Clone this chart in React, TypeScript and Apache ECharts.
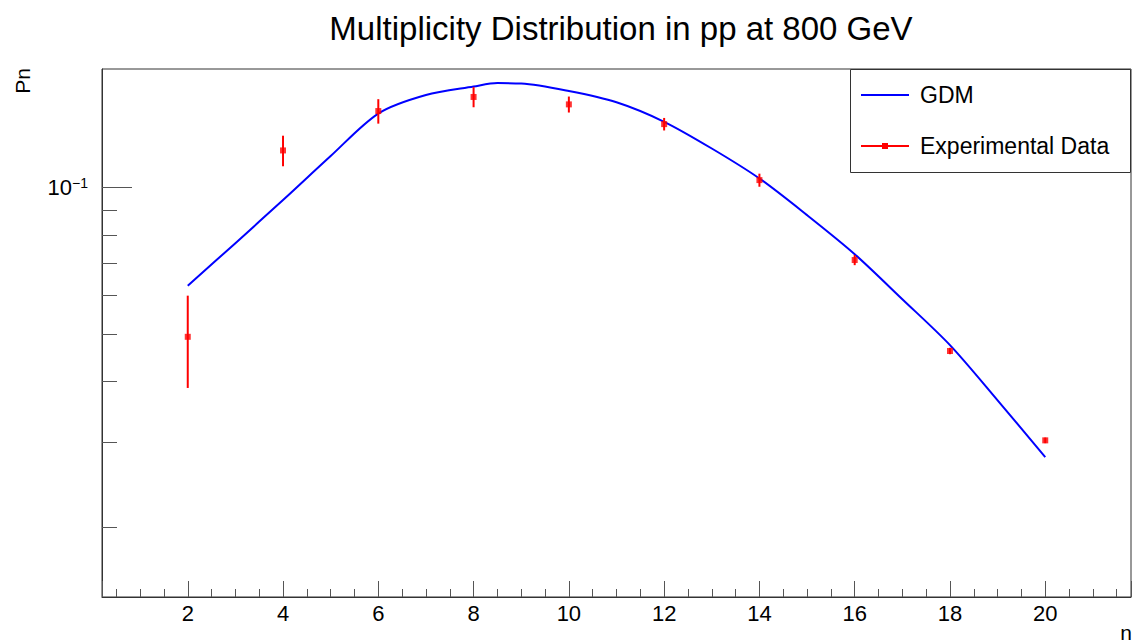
import { useEffect, useRef } from 'react';
import * as echarts from 'echarts';

const TITLE = 'Multiplicity Distribution in pp at 800 GeV';
const X_NAME = 'n';
const Y_NAME = 'Pn';
const GDM_NAME = 'GDM';
const EXP_NAME = 'Experimental Data';

// Experimental data: n, Pn, error
const expN = [2, 4, 6, 8, 10, 12, 14, 16, 18, 20];
const expP = [0.0493, 0.1191, 0.1435, 0.1534, 0.1481, 0.1349, 0.1035, 0.0709, 0.0461, 0.0302];
const expErr = [0.0106, 0.0086, 0.0083, 0.0073, 0.0056, 0.004, 0.0032, 0.0017, 0.0007, 0.0004];

// GDM curve
const gdmN = [2, 3, 4, 5, 6, 7, 8, 8.5, 9, 10, 11, 12, 13, 14, 15, 16, 17, 18, 19, 20];
const gdmP = [0.0628, 0.0768, 0.0942, 0.116, 0.1418, 0.1548, 0.1611, 0.1638, 0.1635, 0.1578, 0.1496, 0.1364, 0.1202, 0.1043, 0.0877, 0.0729, 0.0589, 0.0474, 0.0365, 0.0279];

// Axis ranges and ticks
const X_MIN = 0.2;
const X_MAX = 21.8;
const Y_MIN = 0.01439;
const Y_MAX = 0.1751;
const yMajorTicks = [0.1];
const yMinorTicks = [0.02, 0.03, 0.04, 0.05, 0.06, 0.07, 0.08, 0.09];

const FONT = '"Liberation Sans", Arial, Helvetica, sans-serif';

export default function App() {
  const ref = useRef<HTMLDivElement>(null);

  useEffect(() => {
    if (!ref.current) return;
    const chart = echarts.init(ref.current, undefined, { renderer: 'svg' });

    const tickData = [
      ...yMajorTicks.map((v) => [X_MIN, v, 30]),
      ...yMinorTicks.map((v) => [X_MIN, v, 15]),
    ];

    const option: any = {
      animation: false,
      backgroundColor: '#fff',
      title: {
        text: TITLE,
        left: 616,
        top: 7,
        textAlign: 'center',
        textStyle: { fontSize: 33, fontWeight: 'normal', fontFamily: FONT, color: '#000' },
      },
      grid: {
        left: 102,
        top: 69,
        right: 7,
        bottom: 45,
        show: true,
        borderColor: '#333',
        borderWidth: 1,
        backgroundColor: 'transparent',
      },
      xAxis: {
        type: 'value',
        min: X_MIN,
        max: X_MAX,
        splitNumber: 10,
        minInterval: 2,
        maxInterval: 2,
        axisLine: { show: true, lineStyle: { color: '#333', width: 1 } },
        axisTick: { show: true, inside: true, length: 16, lineStyle: { color: '#555' } },
        minorTick: { show: true, splitNumber: 4, length: 8, lineStyle: { color: '#555' } },
        splitLine: { show: false },
        minorSplitLine: { show: false },
        axisLabel: {
          show: true,
          showMinLabel: false,
          showMaxLabel: false,
          fontSize: 22,
          fontFamily: FONT,
          color: '#000',
          margin: 5,
        },
      },
      yAxis: {
        type: 'log',
        logBase: 10,
        min: Y_MIN,
        max: Y_MAX,
        axisLine: { show: true, lineStyle: { color: '#333', width: 1 } },
        axisTick: { show: false },
        splitLine: { show: false },
        axisLabel: {
          show: true,
          margin: 14,
          formatter: (v: number) => (Math.abs(v - 0.1) < 1e-6 ? '{b|10}{s|−1}' : ''),
          rich: {
            b: { fontSize: 22, fontFamily: FONT, color: '#000', lineHeight: 22, verticalAlign: 'bottom' },
            s: { fontSize: 14, fontFamily: FONT, color: '#000', lineHeight: 14, verticalAlign: 'top' },
          },
        },
      },
      series: [
        {
          type: 'custom',
          name: 'yticks',
          silent: true,
          clip: false,
          data: tickData,
          encode: { x: 0, y: 1 },
          renderItem: (_p: any, api: any) => {
            const pt = api.coord([api.value(0), api.value(1)]);
            const len = api.value(2);
            const y = Math.round(pt[1]) + 0.5;
            return {
              type: 'line',
              shape: { x1: pt[0], y1: y, x2: pt[0] + len, y2: y },
              style: { stroke: '#555', lineWidth: 1 },
            };
          },
          z: 1,
        },
        {
          type: 'line',
          name: GDM_NAME,
          data: gdmN.map((n, i) => [n, gdmP[i]]),
          symbol: 'none',
          smooth: 0.3,
          lineStyle: { color: '#0000ff', width: 2 },
          z: 2,
        },
        {
          type: 'custom',
          name: EXP_NAME,
          data: expN.map((n, i) => [n, expP[i], expErr[i]]),
          encode: { x: 0, y: 1 },
          renderItem: (_p: any, api: any) => {
            const n = api.value(0);
            const v = api.value(1);
            const e = api.value(2);
            const top = api.coord([n, v + e]);
            const bot = api.coord([n, v - e]);
            return {
              type: 'line',
              shape: { x1: top[0], y1: top[1], x2: bot[0], y2: bot[1] },
              style: { stroke: '#ff0000', lineWidth: 2 },
            };
          },
          z: 3,
        },
        {
          type: 'scatter',
          name: EXP_NAME + ' markers',
          data: expN.map((n, i) => [n, expP[i]]),
          symbol: 'rect',
          symbolSize: 6,
          itemStyle: { color: '#ff0000' },
          z: 4,
        },
      ],
      graphic: [
        {
          type: 'text',
          x: 22,
          y: 68,
          rotation: Math.PI / 2,
          style: { text: Y_NAME, fontSize: 21, fontFamily: FONT, fill: '#000', align: 'right', verticalAlign: 'middle' },
        },
        {
          type: 'text',
          x: 1132,
          y: 632,
          style: { text: X_NAME, fontSize: 21, fontFamily: FONT, fill: '#000', align: 'right', verticalAlign: 'middle' },
        },
        {
          type: 'rect',
          shape: { x: 850.5, y: 69.5, width: 280, height: 103 },
          style: { fill: '#fff', stroke: '#333', lineWidth: 1 },
          z: 10,
        },
        {
          type: 'line',
          shape: { x1: 861, y1: 95, x2: 909, y2: 95 },
          style: { stroke: '#0000ff', lineWidth: 2 },
          z: 11,
        },
        {
          type: 'text',
          x: 920,
          y: 95,
          style: { text: GDM_NAME, fontSize: 23, fontFamily: FONT, fill: '#000', align: 'left', verticalAlign: 'middle' },
          z: 11,
        },
        {
          type: 'line',
          shape: { x1: 861, y1: 146, x2: 909, y2: 146 },
          style: { stroke: '#ff0000', lineWidth: 2 },
          z: 11,
        },
        {
          type: 'rect',
          shape: { x: 882, y: 143, width: 6, height: 6 },
          style: { fill: '#ff0000' },
          z: 12,
        },
        {
          type: 'text',
          x: 920,
          y: 146,
          style: { text: EXP_NAME, fontSize: 23, fontFamily: FONT, fill: '#000', align: 'left', verticalAlign: 'middle' },
          z: 11,
        },
      ],
    };

    chart.setOption(option);
    return () => chart.dispose();
  }, []);

  return (
    <div
      ref={ref}
      style={{ position: 'fixed', left: 0, top: 0, width: 1138, height: 642, background: '#fff' }}
    />
  );
}
